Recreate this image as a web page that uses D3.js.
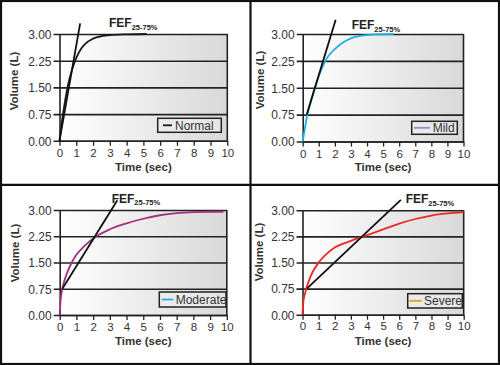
<!DOCTYPE html>
<html><head><meta charset="utf-8">
<script src="https://cdn.jsdelivr.net/npm/d3@7"></script>
<style>html,body{margin:0;padding:0;background:#fff}svg{display:block}</style>
</head><body>
<svg id="c" width="500" height="365"></svg>
<script>
// ---------- data ----------
const categories = ["Normal", "Mild", "Moderate", "Severe"];
const xTicks = [0,1,2,3,4,5,6,7,8,9,10];
const yTicks = [0, 0.75, 1.5, 2.25, 3.0];
const yTickLabels = ["0.00", "0.75", "1.50", "2.25", "3.00"];

const normalTime   = [0, 0.1, 0.25, 0.5, 0.75, 1.0, 1.25, 1.5, 2.0, 2.5, 3.0, 4.0, 5.2];
const normalVolume = [0, 0.38, 0.88, 1.55, 2.0, 2.33, 2.56, 2.71, 2.87, 2.94, 2.97, 2.99, 3.0];

const mildTime   = [0, 0.15, 0.3, 0.5, 0.75, 1.0, 1.25, 1.5, 1.75, 2.0, 2.5, 3.0, 3.5, 4.0, 4.5, 5.65];
const mildVolume = [0, 0.4, 0.77, 1.1, 1.49, 1.82, 2.1, 2.32, 2.47, 2.58, 2.76, 2.88, 2.94, 2.97, 2.99, 3.0];

const moderateTime   = [0, 0.05, 0.16, 0.4, 0.72, 1.0, 1.5, 2.2, 3.0, 4.0, 5.0, 6.0, 7.0, 8.0, 9.0, 9.8];
const moderateVolume = [0, 0.4, 0.75, 1.15, 1.5, 1.72, 1.98, 2.25, 2.45, 2.62, 2.75, 2.85, 2.91, 2.94, 2.95, 2.95];

const severeTime   = [0, 0.05, 0.15, 0.27, 0.5, 1.0, 1.5, 2.0, 3.0, 3.78, 5.0, 6.0, 7.0, 8.0, 9.0, 10.0];
const severeVolume = [0, 0.35, 0.6, 0.8, 1.1, 1.5, 1.75, 1.93, 2.12, 2.25, 2.45, 2.62, 2.75, 2.85, 2.91, 2.95];

// FEF25-75% tangent lines: [start time, start volume, end time, end volume]
const fefNormal   = [0, 0, 1.23, 3.3];
const fefMild     = [0.25, 0.75, 2.05, 3.4];
const fefModerate = [0.16, 0.75, 3.45, 3.28];
const fefSevere   = [0.27, 0.75, 6.1, 3.3];

const curveColors  = ["#1a1a1a", "#1cb0e6", "#a3307e", "#ec2a22"];
const legendColors = ["#1a1a1a", "#8f8fd8", "#29abe2", "#f7941d"];

// ---------- layout ----------
const layouts = [
  {x0:59.5, x1:227.3, y0:34, y1:140.8, fef:[109,27], ylab:[13.5,81], tickY:157, titleY:170.5,
   leg:[157.7,118.3,221.3,132.3], legLine:[163,172], legText:175},
  {x0:302.7, x1:463.5, y0:34, y1:141.5, fef:[351.7,29], ylab:[259.5,80], tickY:157.5, titleY:171,
   leg:[411.7,121.3,457.3,134.3], legLine:[414,430], legText:432.7},
  {x0:59.7, x1:226.8, y0:210, y1:315, fef:[111.7,202.5], ylab:[14.5,253], tickY:330.5, titleY:345,
   leg:[159.3,292,226,307], legLine:[161.7,173.3], legText:175.7},
  {x0:302.5, x1:463.7, y0:210.3, y1:314.7, fef:[405.7,203], ylab:[259,252], tickY:330.5, titleY:345,
   leg:[407.7,293.7,462.3,308], legLine:[409.3,421.7], legText:424}
];

const series = [
  {time: normalTime, vol: normalVolume, fef: fefNormal},
  {time: mildTime, vol: mildVolume, fef: fefMild},
  {time: moderateTime, vol: moderateVolume, fef: fefModerate},
  {time: severeTime, vol: severeVolume, fef: fefSevere}
];

const svg = d3.select("#c");
const font = "'Liberation Sans', Arial, Helvetica, sans-serif";

const defs = svg.append("defs");
const grad = defs.append("linearGradient").attr("id","bg").attr("x1","0").attr("x2","1").attr("y1","0").attr("y2","0");
grad.append("stop").attr("offset","0").attr("stop-color","#ffffff");
grad.append("stop").attr("offset","1").attr("stop-color","#d9d9d9");

// outer border and dividers
svg.append("rect").attr("x",1).attr("y",1).attr("width",498).attr("height",363)
  .attr("fill","none").attr("stroke","#111").attr("stroke-width",2.2);
svg.append("line").attr("x1",250.5).attr("x2",250.5).attr("y1",0).attr("y2",365).attr("stroke","#111").attr("stroke-width",2.2);
svg.append("line").attr("x1",0).attr("x2",500).attr("y1",184.8).attr("y2",184.8).attr("stroke","#111").attr("stroke-width",2.2);

categories.forEach((cat, i) => {
  const L = layouts[i], S = series[i];
  const x = d3.scaleLinear().domain([0,10]).range([L.x0, L.x1]);
  const y = d3.scaleLinear().domain([0,3]).range([L.y1, L.y0]);
  const g = svg.append("g");

  g.append("rect").attr("x",L.x0).attr("y",L.y0).attr("width",L.x1-L.x0).attr("height",L.y1-L.y0)
    .attr("fill","url(#bg)");

  // y axis with gridlines
  const yAxis = d3.axisLeft(y).tickValues(yTicks).tickSize(-(L.x1-L.x0)).tickSizeOuter(0)
    .tickFormat((d,k) => yTickLabels[k]);
  const ya = g.append("g").attr("transform",`translate(${L.x0},0)`).call(yAxis);
  ya.select(".domain").attr("stroke","#222").attr("stroke-width",1.6);
  ya.selectAll(".tick line").attr("stroke","#222").attr("stroke-width",1.6).attr("x1",-6);
  ya.selectAll(".tick text").attr("x",-8).attr("dy","0.36em").attr("fill","#333")
    .style("font-family",font).style("font-size","12px");

  // right border
  g.append("line").attr("x1",L.x1).attr("x2",L.x1).attr("y1",L.y0).attr("y2",L.y1)
    .attr("stroke","#222").attr("stroke-width",1.6);

  // x axis
  const xAxis = d3.axisBottom(x).tickValues(xTicks).tickSize(5).tickSizeOuter(0).tickFormat(d3.format("d"));
  const xa = g.append("g").attr("transform",`translate(0,${L.y1})`).call(xAxis);
  xa.select(".domain").attr("stroke","#222").attr("stroke-width",1.6);
  xa.selectAll(".tick line").attr("stroke","#222").attr("stroke-width",1.3);
  xa.selectAll(".tick text").attr("y",L.tickY - L.y1).attr("dy",0).attr("fill","#333")
    .style("font-family",font).style("font-size","11.5px");

  // axis titles
  g.append("text").attr("x",(L.x0+L.x1)/2).attr("y",L.titleY).attr("text-anchor","middle")
    .attr("fill","#333").style("font-family",font).style("font-size","11.5px").style("font-weight","bold")
    .text("Time (sec)");
  g.append("text").attr("transform",`translate(${L.ylab[0]+4},${L.ylab[1]}) rotate(-90)`)
    .attr("text-anchor","middle").attr("fill","#333").style("font-family",font)
    .style("font-size","11.5px").style("font-weight","bold").text("Volume (L)");

  // curve
  const pts = S.time.map((t,k) => [t, S.vol[k]]);
  g.append("path").datum(pts)
    .attr("d", d3.line().x(d => x(d[0])).y(d => y(d[1])).curve(d3.curveMonotoneX))
    .attr("fill","none").attr("stroke",curveColors[i]).attr("stroke-width",1.8);

  // FEF line
  g.append("line").attr("x1",x(S.fef[0])).attr("y1",y(S.fef[1])).attr("x2",x(S.fef[2])).attr("y2",y(S.fef[3]))
    .attr("stroke","#111").attr("stroke-width",1.8);

  // FEF label
  const ft = g.append("text").attr("x",L.fef[0]).attr("y",L.fef[1]).attr("fill","#222")
    .style("font-family",font).style("font-weight","bold");
  ft.append("tspan").style("font-size","12px").text("FEF");
  ft.append("tspan").style("font-size","7.5px").attr("dy",2.5).text("25-75%");

  // legend
  const lg = L.leg;
  g.append("rect").attr("x",lg[0]).attr("y",lg[1]).attr("width",lg[2]-lg[0]).attr("height",lg[3]-lg[1])
    .attr("fill","#f2f2f2").attr("fill-opacity",0.5).attr("stroke","#222").attr("stroke-width",1.5);
  const cy = (lg[1]+lg[3])/2;
  g.append("line").attr("x1",L.legLine[0]).attr("x2",L.legLine[1]).attr("y1",cy).attr("y2",cy)
    .attr("stroke",legendColors[i]).attr("stroke-width",1.8);
  g.append("text").attr("x",L.legText).attr("y",cy).attr("dy","0.36em").attr("fill","#333")
    .style("font-family",font).style("font-size","12px").text(cat);
});
</script>
</body></html>
